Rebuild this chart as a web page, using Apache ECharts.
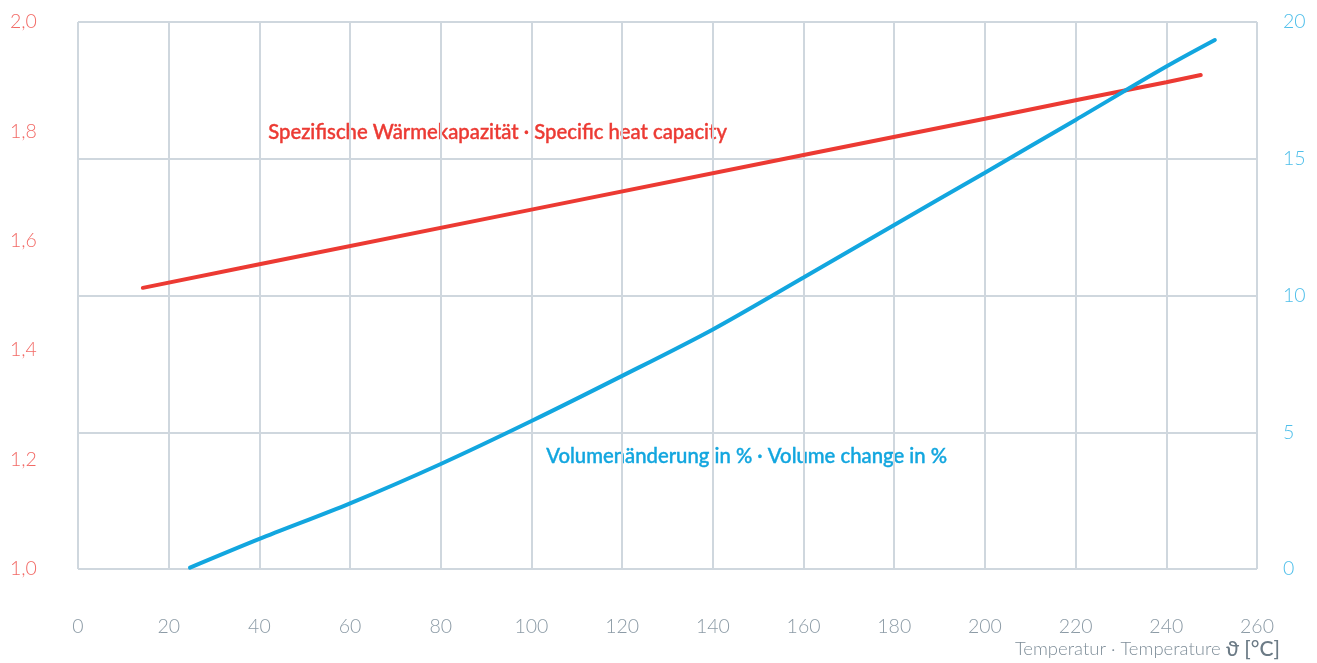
<!DOCTYPE html>
<html>
<head>
<meta charset="utf-8">
<script src="https://cdn.jsdelivr.net/npm/echarts@6/dist/echarts.min.js"></script>
<style>
html,body{margin:0;padding:0;background:#fff;}
#chart{width:1317px;height:663px;}
</style>
</head>
<body>
<div id="chart"></div>
<script>
// Temperature (°C) for each series
const heatTemps   = [14.3, 40, 100, 160, 200, 220, 240, 247.6];
const heatValues  = [1.514, 1.557, 1.657, 1.757, 1.823, 1.857, 1.890, 1.903];
const volTemps    = [24.7, 40, 60, 80, 100, 120, 140, 160, 180, 200, 220, 240, 250.7];
const volValues   = [0.05, 1.10, 2.40, 3.84, 5.41, 7.06, 8.76, 10.66, 12.58, 14.49, 16.42, 18.37, 19.34];
const heatLabel   = 'Spezifische Wärmekapazität · Specific heat capacity';
const volLabel    = 'Volumenänderung in % · Volume change in %';
const xAxisTitle  = 'Temperatur · Temperature ';
const xAxisUnit   = 'ϑ [°C]';

const heatData = heatTemps.map((t, i) => [t, heatValues[i]]);
const volData  = volTemps.map((t, i) => [t, volValues[i]]);

const FONT = 'Lato';
const gridColor = '#cfd7de';
const red = '#ec3a33';
const blue = '#12a6df';

const chart = echarts.init(document.getElementById('chart'));
chart.setOption({
  animation: false,
  textStyle: { fontFamily: FONT },
  grid: { left: 78, right: 60, top: 22, bottom: 94, containLabel: false },
  xAxis: {
    type: 'value', min: 0, max: 260, interval: 20,
    axisLine: { show: false }, axisTick: { show: false },
    splitLine: { show: true, lineStyle: { color: gridColor, width: 2 } },
    axisLabel: { color: '#8c9ba6', fontSize: 19.5, margin: 48, fontFamily: FONT, fontWeight: 300 }
  },
  yAxis: [
    {
      type: 'value', min: 1.0, max: 2.0, interval: 0.2, position: 'left',
      axisLine: { show: false }, axisTick: { show: false },
      splitLine: { show: false },
      axisLabel: {
        color: '#f26a66', fontSize: 19.5, align: 'left', margin: 68,
        fontFamily: FONT, fontWeight: 300, padding: [0, 0, 6, 0],
        formatter: v => v.toFixed(1).replace('.', ',')
      }
    },
    {
      type: 'value', min: 0, max: 20, interval: 5, position: 'right',
      axisLine: { show: false }, axisTick: { show: false },
      splitLine: { show: true, lineStyle: { color: gridColor, width: 2 } },
      axisLabel: { color: '#4fbfea', fontSize: 19.5, align: 'left', margin: 26, fontFamily: FONT, fontWeight: 300 }
    }
  ],
  series: [
    {
      type: 'line', yAxisIndex: 0, data: heatData, showSymbol: false,
      lineStyle: { color: red, width: 4, cap: 'round' }, itemStyle: { color: red }
    },
    {
      type: 'line', yAxisIndex: 1, data: volData, showSymbol: false, smooth: 0.3,
      lineStyle: { color: blue, width: 4, cap: 'round' }, itemStyle: { color: blue }
    }
  ],
  graphic: [
    {
      type: 'text', left: 268, top: 122,
      style: { text: heatLabel, fill: red, font: '500 20.3px ' + FONT, stroke: red, lineWidth: 0.4 }
    },
    {
      type: 'text', left: 546, top: 446,
      style: { text: volLabel, fill: blue, font: '500 20.3px ' + FONT, stroke: blue, lineWidth: 0.4 }
    },
    {
      type: 'text', right: 37, top: 639,
      style: {
        text: '{a|' + xAxisTitle + '}{b|' + xAxisUnit + '}',
        rich: {
          a: { fill: '#7f8e99', fontSize: 18.5, fontFamily: FONT, fontWeight: 300 },
          b: { fill: '#6c7b86', fontSize: 21, fontFamily: FONT, fontWeight: 500 }
        }
      }
    }
  ]
});
</script>
</body>
</html>
